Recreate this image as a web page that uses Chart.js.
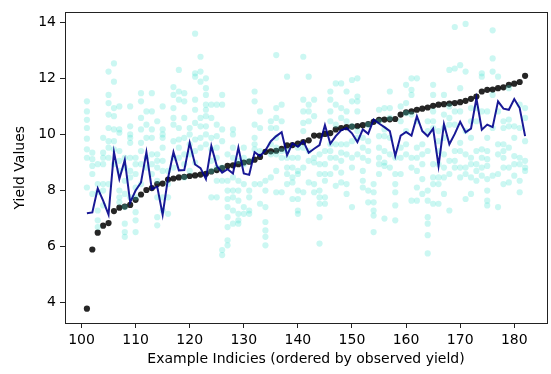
<!DOCTYPE html>
<html>
<head>
<meta charset="utf-8">
<script src="https://cdn.jsdelivr.net/npm/chart.js@4.4.1/dist/chart.umd.min.js"></script>
<style>
    html, body { margin: 0; padding: 0; background: #fff; }
    #wrap { width: 551px; height: 374px; }
</style>
</head>
<body>
<div id="wrap"><canvas id="yieldChart" width="551" height="374"></canvas></div>
<script>
// example index on the x axis
const exampleIdx = [101, 102, 103, 104, 105, 106, 107, 108, 109, 110, 111, 112, 113, 114, 115, 116, 117, 118, 119, 120,
    121, 122, 123, 124, 125, 126, 127, 128, 129, 130, 131, 132, 133, 134, 135, 136, 137, 138, 139, 140,
    141, 142, 143, 144, 145, 146, 147, 148, 149, 150, 151, 152, 153, 154, 155, 156, 157, 158, 159, 160,
    161, 162, 163, 164, 165, 166, 167, 168, 169, 170, 171, 172, 173, 174, 175, 176, 177, 178, 179, 180,
    181, 182];

// observed yield (sorted)
const observedYield = [3.79, 5.90, 6.50, 6.75, 6.84, 7.27, 7.39, 7.43, 7.49, 7.67, 7.86, 8.02, 8.09, 8.23, 8.25, 8.39, 8.43, 8.47, 8.49, 8.52,
    8.54, 8.57, 8.60, 8.68, 8.73, 8.80, 8.88, 8.90, 8.94, 9.00, 9.03, 9.10, 9.20, 9.38, 9.40, 9.42, 9.49, 9.61, 9.62, 9.67,
    9.73, 9.79, 9.96, 9.96, 10.02, 10.05, 10.18, 10.23, 10.26, 10.28, 10.30, 10.33, 10.37, 10.45, 10.52, 10.53, 10.54, 10.55, 10.71, 10.79,
    10.82, 10.88, 10.92, 10.96, 11.02, 11.06, 11.08, 11.10, 11.12, 11.15, 11.20, 11.27, 11.35, 11.53, 11.59, 11.60, 11.65, 11.68, 11.77, 11.81,
    11.87, 12.09];

// mean of the ensemble predictions
const meanPrediction = [7.19, 7.22, 8.08, 7.64, 7.14, 9.37, 8.41, 9.09, 7.58, 8.00, 8.29, 9.37, 8.05, 8.14, 7.14, 8.45, 9.37, 8.72, 8.73, 9.70,
    8.93, 8.80, 8.41, 9.59, 8.88, 8.64, 8.76, 8.61, 9.53, 8.61, 8.56, 9.37, 9.23, 9.43, 9.76, 9.94, 10.08, 9.26, 9.68, 9.56,
    9.76, 9.35, 9.49, 9.62, 10.33, 9.67, 9.94, 10.15, 10.23, 10.04, 9.73, 10.18, 10.02, 10.53, 10.39, 10.26, 10.12, 9.23, 9.96, 10.09,
    9.96, 10.65, 10.12, 9.94, 10.21, 8.88, 10.37, 9.65, 10.02, 10.45, 10.08, 10.21, 11.29, 10.17, 10.35, 10.26, 11.18, 10.92, 10.88, 11.26,
    10.94, 9.94];

// individual ensemble member predictions, one list per example
const memberPredictions = [
    [11.18, 10.82, 10.52, 10.23, 9.85, 9.47, 9.17, 8.11],
    [9.35, 9.12, 8.88, 8.59, 7.88],
    [8.94, 8.23, 7.94, 7.29, 6.94, 6.70],
    [9.88, 9.35, 9.17, 8.94, 8.23, 8.00, 7.47],
    [12.24, 11.41, 11.12, 10.71, 10.23, 9.76, 9.53, 9.17, 8.23],
    [12.53, 11.88, 10.94, 10.65, 10.18, 9.76, 9.47, 8.94],
    [11.00, 10.18, 10.06, 9.41, 9.06, 8.70, 8.00, 7.76, 7.58],
    [9.17, 8.82, 8.35, 7.88, 7.41, 6.82, 6.52, 6.35],
    [11.00, 10.29, 10.00, 9.88, 9.70, 9.17, 8.70, 8.47, 7.76],
    [9.17, 8.94, 8.59, 8.11, 7.76, 7.23, 6.94, 6.52],
    [11.47, 11.18, 10.59, 10.18, 9.70, 9.41, 8.94, 8.23],
    [10.82, 10.35, 9.88, 9.17, 8.82],
    [11.47, 10.82, 10.18, 9.88, 9.29, 8.94, 8.59],
    [10.47, 9.29, 9.06, 8.82, 8.35, 7.76, 7.05, 6.76],
    [11.00, 10.18, 10.00, 9.88, 9.53, 9.06, 8.70, 7.76, 7.29],
    [8.70, 8.23, 7.76, 7.17],
    [11.69, 11.41, 10.94, 10.59, 10.35, 9.76, 9.17, 8.82],
    [12.30, 11.53, 11.24, 10.23, 9.82, 9.53, 9.17],
    [11.47, 11.18, 10.59, 9.88, 9.29, 8.94, 8.47],
    [10.23, 10.00, 9.65, 9.29, 8.70],
    [13.59, 12.18, 12.06, 11.24, 10.88, 10.41, 9.82, 9.41, 9.00],
    [12.77, 12.24, 11.88, 10.59, 10.29, 9.88, 9.53],
    [12.00, 11.65, 11.41, 11.06, 10.88, 10.65, 10.29, 10.00, 9.65],
    [11.06, 10.59, 9.88, 9.47, 9.06, 8.70, 7.76],
    [11.06, 10.35, 9.94, 9.53, 9.17, 8.82, 8.35, 7.76],
    [11.41, 11.06, 10.18, 9.76, 8.82, 8.35, 5.88, 5.70],
    [9.29, 8.35, 8.00, 7.70, 7.41, 7.05, 6.70, 6.23, 6.05],
    [10.18, 10.00, 9.53, 9.17, 8.47, 8.00, 7.76, 7.29, 6.82],
    [9.06, 8.35, 8.00, 7.64, 7.17, 6.94, 6.82],
    [9.53, 9.17, 8.94, 8.23, 7.41, 7.17],
    [9.06, 8.00, 7.76, 7.29, 7.17],
    [11.53, 11.18, 10.35, 9.88, 9.65, 9.47, 8.23],
    [10.82, 10.23, 9.41, 8.23, 7.53],
    [8.35, 8.00, 7.41, 6.88, 6.58, 6.35, 6.05],
    [10.47, 10.23, 9.65, 9.29, 8.47],
    [12.83, 10.94, 10.59, 10.23, 9.88, 9.53, 9.29, 8.70, 7.94],
    [11.06, 10.47, 9.41, 9.17, 7.94],
    [12.06, 9.41, 9.17, 8.82, 8.59, 8.23],
    [9.17, 8.82, 8.47, 8.29, 7.70],
    [9.53, 9.17, 8.70, 8.59, 8.00, 7.70, 7.29, 7.17],
    [12.77, 11.24, 10.82, 10.41, 10.12, 9.53, 8.82, 7.94],
    [12.06, 11.06, 10.82, 10.47, 9.41, 9.06, 8.29],
    [11.24, 10.65, 9.17, 9.00, 8.23, 7.94],
    [9.29, 8.94, 8.59, 8.00, 7.76, 7.53, 7.05, 6.11],
    [9.41, 8.94, 8.59, 8.35, 7.76, 7.53],
    [11.53, 11.24, 10.82, 10.47, 9.65, 9.41, 9.17, 8.59],
    [11.82, 11.06, 10.35, 9.65, 9.17, 8.82, 8.17],
    [11.82, 10.94, 10.59, 9.65, 9.35, 9.06, 8.64, 8.29],
    [11.53, 10.82, 10.47, 9.65, 9.29, 8.23, 7.88],
    [11.94, 11.18, 10.29, 9.76, 9.17, 8.82, 7.41],
    [12.00, 11.35, 11.18, 10.82, 10.12, 9.88, 9.29],
    [9.88, 9.53, 9.17, 8.70, 8.35, 8.11],
    [10.35, 9.76, 9.41, 9.06, 8.00, 7.58],
    [8.23, 7.94, 7.58, 7.29, 7.11, 6.52],
    [10.88, 10.47, 9.94, 9.53, 9.17, 8.94, 8.59],
    [10.94, 10.18, 9.94, 9.41, 9.00, 8.88, 7.00],
    [11.53, 10.94, 10.59, 9.88, 9.29, 8.82],
    [9.17, 8.59, 8.23, 7.94, 7.47, 6.94],
    [11.00, 10.47, 9.53, 9.17, 8.59],
    [11.77, 11.12, 10.76, 10.12, 9.65, 9.29],
    [12.00, 11.59, 11.41, 10.71, 9.17, 8.82, 7.64],
    [12.00, 10.47, 9.53, 9.17, 8.70, 8.11, 7.64],
    [9.65, 9.29, 8.94, 8.41, 7.88],
    [10.47, 10.12, 9.41, 8.00, 7.64, 7.05, 6.82, 6.41, 5.76],
    [11.77, 11.41, 10.82, 10.47, 10.23, 8.94, 8.47, 8.23, 7.53],
    [10.12, 9.76, 9.41, 8.94, 8.47, 8.23, 7.53],
    [11.41, 10.71, 10.23, 9.88, 9.29, 8.82, 8.47, 7.88],
    [12.30, 11.00, 10.59, 10.35, 9.06, 8.59, 7.29],
    [13.83, 12.35, 10.82, 10.35, 9.41, 9.06, 8.82],
    [12.47, 11.65, 10.82, 9.70, 9.41, 8.82, 8.47],
    [13.94, 12.24, 10.12, 9.29, 8.82, 8.59, 7.70],
    [10.94, 10.47, 9.88, 9.17, 8.94, 8.47, 7.88],
    [10.94, 10.47, 9.41, 8.94, 8.70, 8.35],
    [12.18, 12.06, 10.82, 9.47, 9.17, 8.82, 8.53],
    [10.82, 9.88, 9.41, 9.12, 8.88, 8.41, 8.00, 7.64, 7.47],
    [13.71, 12.71, 12.24, 11.41, 10.23, 8.53],
    [12.06, 10.82, 9.65, 9.29, 8.59, 7.41],
    [10.47, 10.23, 9.65, 9.41, 9.17, 8.82, 8.23],
    [11.65, 10.53, 10.29, 9.53, 8.82, 8.29],
    [10.29, 9.88, 9.23, 8.94, 8.53],
    [11.06, 10.23, 9.17, 8.94, 8.35, 7.94],
    [10.94, 10.59, 9.76, 9.06, 8.82, 8.70]
];

const xTicks = [100, 110, 120, 130, 140, 150, 160, 170, 180];
const yTicks = [4, 6, 8, 10, 12, 14];

const xLabel = "Example Indicies (ordered by observed yield)";
const yLabel = "Yield Values";

function buildPoints(xs, ys) {
    return xs.map((x, i) => ({x: x, y: ys[i]}));
}

function buildMemberPoints() {
    let pts = [];
    exampleIdx.forEach((x, i) => {
        memberPredictions[i].forEach(v => pts.push({x: x, y: v}));
    });
    return pts;
}

// full box around the axes, like matplotlib spines
const frame = {
    id: "frame",
    afterDatasetsDraw(chart) {
        const a = chart.chartArea;
        const ctx = chart.ctx;
        ctx.save();
        ctx.strokeStyle = "#222";
        ctx.lineWidth = 1;
        ctx.strokeRect(Math.round(a.left) + 0.5, Math.round(a.top) + 0.5,
            Math.round(a.right - a.left), Math.round(a.bottom - a.top));
        ctx.restore();
    }
};

const tickFont = {family: "DejaVu Sans", size: 14};

new Chart(document.getElementById("yieldChart").getContext("2d"), {
    type: "scatter",
    data: {
        datasets: [
            {
                label: "mean",
                data: buildPoints(exampleIdx, meanPrediction),
                showLine: true,
                borderColor: "rgba(0, 0, 139, 0.9)",
                borderWidth: 2,
                pointRadius: 0,
                order: 0
            },
            {
                label: "members",
                data: buildMemberPoints(),
                backgroundColor: "rgba(64, 224, 208, 0.27)",
                borderWidth: 0,
                pointRadius: 3.1,
                order: 1
            },
            {
                label: "observed",
                data: buildPoints(exampleIdx, observedYield),
                backgroundColor: "rgba(0, 0, 0, 0.85)",
                borderWidth: 0,
                pointRadius: 3.1,
                order: 2
            }
        ]
    },
    options: {
        responsive: false,
        animation: false,
        layout: {padding: {left: 0, right: 3, top: 8, bottom: 0}},
        plugins: {
            legend: {display: false},
            tooltip: {enabled: false}
        },
        scales: {
            x: {
                type: "linear",
                min: 96.95,
                max: 186.05,
                afterBuildTicks: s => { s.ticks = xTicks.map(v => ({value: v})); },
                afterFit: s => { s.height = 51; },
                grid: {display: true, drawOnChartArea: false, drawTicks: true, tickLength: 5, color: "#222", lineWidth: 1},
                border: {display: false},
                ticks: {font: tickFont, color: "#000", padding: 4, maxRotation: 0},
                title: {display: true, text: xLabel, font: tickFont, color: "#000", padding: {top: 0, bottom: 6}}
            },
            y: {
                type: "linear",
                min: 3.28,
                max: 14.35,
                afterBuildTicks: s => { s.ticks = yTicks.map(v => ({value: v})); },
                afterFit: s => { s.width = 65; },
                grid: {display: true, drawOnChartArea: false, drawTicks: true, tickLength: 5, color: "#222", lineWidth: 1},
                border: {display: false},
                ticks: {font: tickFont, color: "#000", padding: 4},
                title: {display: true, text: yLabel, font: tickFont, color: "#000", padding: {top: 12, bottom: 0}}
            }
        }
    },
    plugins: [frame]
});
</script>
</body>
</html>
